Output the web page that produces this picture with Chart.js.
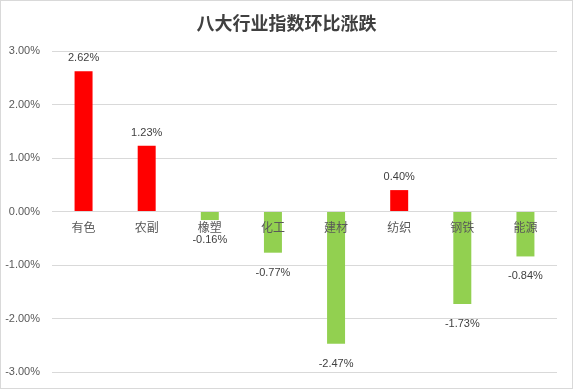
<!DOCTYPE html>
<html>
<head>
<meta charset="utf-8">
<script src="https://cdn.jsdelivr.net/npm/chart.js@4/dist/chart.umd.min.js"></script>
<style>
  body { margin: 0; background: #fff; }
  #wrap { width: 573px; height: 389px; box-sizing: border-box; border: 1px solid #d9d9d9; }
</style>
</head>
<body>
<div id="wrap"><canvas id="chart" width="571" height="387"></canvas></div>
<script>
// Chart data
const title = '八大行业指数环比涨跌';
const categories = ['有色', '农副', '橡塑', '化工', '建材', '纺织', '钢铁', '能源'];
const changes = [2.62, 1.23, -0.16, -0.77, -2.47, 0.40, -1.73, -0.84];
const yTicks = [-3, -2, -1, 0, 1, 2, 3];

const numFont = 'Liberation Sans, "Noto Sans CJK SC", sans-serif';
const cjkFont = '"Noto Sans CJK SC", sans-serif';

// Title, category labels (drawn over the bars, at the zero line) and value labels
const labelPlugin = {
    id: 'labels',
    afterDatasetsDraw(chart) {
        const ctx = chart.ctx;
        const zeroY = chart.scales.y.getPixelForValue(0);
        ctx.save();
        ctx.fillStyle = '#404040';
        ctx.font = 'bold 18px ' + cjkFont;
        ctx.textAlign = 'center';
        ctx.textBaseline = 'middle';
        ctx.fillText(title, chart.width / 2, 22);

        const meta = chart.getDatasetMeta(0);
        ctx.fillStyle = '#595959';
        ctx.font = '12px ' + cjkFont;
        meta.data.forEach((bar, i) => {
            ctx.fillText(categories[i], bar.x, zeroY + 16);
        });

        ctx.fillStyle = '#404040';
        ctx.font = '11px ' + numFont;
        meta.data.forEach((bar, i) => {
            const v = changes[i];
            const text = v.toFixed(2) + '%';
            if (v >= 0) {
                ctx.fillText(text, bar.x, bar.y - 13);
            } else {
                ctx.fillText(text, bar.x, bar.y + 20);
            }
        });
        ctx.restore();
    }
};

const ctx = document.getElementById('chart').getContext('2d');
new Chart(ctx, {
    type: 'bar',
    data: {
        labels: categories,
        datasets: [{
            data: changes,
            backgroundColor: changes.map(v => v >= 0 ? '#FF0000' : '#92D050'),
            barPercentage: 0.285,
            categoryPercentage: 1
        }]
    },
    options: {
        responsive: false,
        animation: false,
        layout: { padding: { left: 0, right: 15, top: 50, bottom: 16 } },
        plugins: {
            legend: { display: false },
            title: { display: false },
            tooltip: { enabled: false }
        },
        scales: {
            x: {
                display: false
            },
            y: {
                min: -3,
                max: 3,
                afterFit(scale) {
                    scale.width = 51;
                    scale.paddingBottom = 0;
                },
                afterBuildTicks(scale) { scale.ticks = yTicks.map(v => ({ value: v })); },
                grid: { color: '#d9d9d9', drawTicks: false },
                border: { display: false },
                ticks: {
                    color: '#595959',
                    font: { size: 11, family: numFont },
                    padding: 12,
                    callback: v => v.toFixed(2) + '%'
                }
            }
        }
    },
    plugins: [labelPlugin]
});
</script>
</body>
</html>
